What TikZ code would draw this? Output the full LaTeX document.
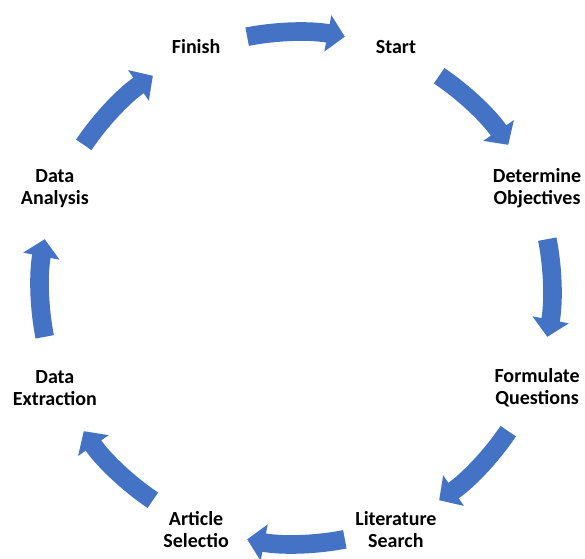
\documentclass[tikz,border=0pt]{standalone}
\usepackage{fontspec}
\setmainfont{Carlito}
\usetikzlibrary{arrows.meta}
\definecolor{cycleblue}{RGB}{68,114,196}
\tikzset{
  steplabel/.style={align=center, inner sep=0.75pt, font=\bfseries\fontsize{15}{16.5}\selectfont},
  cyclearrow/.style={draw=cycleblue, line width=14pt, -{Triangle[width=27pt,length=13pt]}},
}

\begin{document}
\begin{tikzpicture}[x=0.75pt,y=0.75pt]
\useasboundingbox (0,0) rectangle (585,558);
\coordinate (ctr) at (296,270);

% Text Node
\node[steplabel] (finish) at ([shift={(112.5:261)}]ctr) {Finish};
% Text Node
\node[steplabel] (start) at ([shift={(67.5:261)}]ctr) {Start};
% Text Node
\node[steplabel] (objectives) at ([shift={(22.5:261)}]ctr) {Determine\\Objectives};
% Text Node
\node[steplabel] (questions) at ([shift={(-22.5:261)}]ctr) {Formulate\\Questions};
% Text Node
\node[steplabel] (search) at ([shift={(-67.5:261)}]ctr) {Literature\\Search};
% Text Node
\node[steplabel] (selection) at ([shift={(-112.5:261)}]ctr) {Article\\Selectio};
% Text Node
\node[steplabel] (extraction) at ([shift={(-157.5:261)}]ctr) {Data\\Extraction};
% Text Node
\node[steplabel] (analysis) at ([shift={(157.5:261)}]ctr) {Data\\Analysis};

%Curved Arrows
\draw[cyclearrow] ([shift={(101:256)}]ctr) arc[start angle=101, end angle=79, radius=256];
\draw[cyclearrow] ([shift={(56:256)}]ctr) arc[start angle=56, end angle=34, radius=256];
\draw[cyclearrow] ([shift={(11:256)}]ctr) arc[start angle=11, end angle=-11, radius=256];
\draw[cyclearrow] ([shift={(-34:256)}]ctr) arc[start angle=-34, end angle=-56, radius=256];
\draw[cyclearrow] ([shift={(-79:256)}]ctr) arc[start angle=-79, end angle=-101, radius=256];
\draw[cyclearrow] ([shift={(-124:256)}]ctr) arc[start angle=-124, end angle=-146, radius=256];
\draw[cyclearrow] ([shift={(-169:256)}]ctr) arc[start angle=-169, end angle=-191, radius=256];
\draw[cyclearrow] ([shift={(146:256)}]ctr) arc[start angle=146, end angle=124, radius=256];

\end{tikzpicture}
\end{document}
